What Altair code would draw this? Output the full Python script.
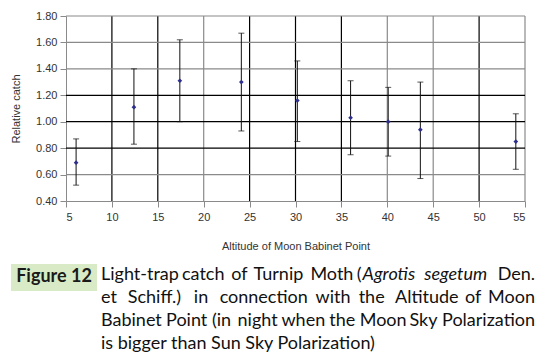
import altair as alt
import pandas as pd

# Data
altitude = [6.1, 12.4, 17.4, 24.1, 30.2, 36.0, 40.1, 43.6, 54.0]
catch = [0.69, 1.11, 1.31, 1.30, 1.16, 1.03, 1.00, 0.94, 0.85]
err_low = [0.52, 0.83, 1.00, 0.93, 0.85, 0.75, 0.74, 0.57, 0.64]
err_high = [0.87, 1.40, 1.62, 1.67, 1.46, 1.31, 1.26, 1.30, 1.06]

x_ticks = [5, 10, 15, 20, 25, 30, 35, 40, 45, 50, 55]
y_ticks = [0.4, 0.6, 0.8, 1.0, 1.2, 1.4, 1.6, 1.8]
x_grid_dark = [10, 15, 25, 30, 35, 50]
x_grid_light = [20, 40, 45, 55]
y_grid_dark = [0.8, 1.0, 1.2]
y_grid_light = [0.6, 1.4, 1.6, 1.8]

figure_label = "Figure 12"
# caption: lines -> words -> (piece, style); first three lines are justified
caption = [
    [[("Light-trap", "normal")], [("catch", "normal")], [("of", "normal")], [("Turnip", "normal")],
     [("Moth", "normal")], [("(", "normal"), ("Agrotis", "italic")], [("segetum", "italic")],
     [("Den.", "normal")]],
    [[("et", "normal")], [("Schiff.)", "normal")], [("in", "normal")], [("connection", "normal")],
     [("with", "normal")], [("the", "normal")], [("Altitude", "normal")], [("of", "normal")],
     [("Moon", "normal")]],
    [[("Babinet", "normal")], [("Point", "normal")], [("(in", "normal")], [("night", "normal")],
     [("when", "normal")], [("the", "normal")], [("Moon", "normal")], [("Sky", "normal")],
     [("Polarization", "normal")]],
    [[("is bigger than Sun Sky Polarization)", "normal")]],
]

# ---- layout helpers (approximate glyph advance widths, per 1000 em) ----
_W = dict(zip("abcdefghijklmnopqrstuvwxyz",
              [556, 556, 500, 556, 556, 278, 556, 556, 222, 222, 500, 222, 833,
               556, 556, 556, 556, 333, 500, 278, 556, 500, 722, 500, 500, 500]))
_W.update({"A": 667, "B": 667, "D": 722, "L": 556, "M": 833, "P": 667, "S": 667, "T": 611,
           " ": 278, "(": 333, ")": 333, ".": 278, "-": 333})
FS = 18
FACTOR = 0.961


def text_w(s):
    return sum(_W.get(c, 556) for c in s) / 1000 * FS * FACTOR


LEFT, RIGHT = 101, 535
line_y = [275, 298, 321, 344]
W, H = 459, 185
X0, Y0 = 66, 16  # page position of plot origin

pieces = []  # (text, x, y, align, style)
for li, words in enumerate(caption):
    if li == 3:
        pieces.append((words[0][0][0], LEFT, line_y[li], "left", "normal"))
        continue
    widths = [sum(text_w(p) for p, _ in w) for w in words]
    gap = (RIGHT - LEFT - sum(widths)) / (len(words) - 1)
    x = LEFT
    for wi, (w, ww) in enumerate(zip(words, widths)):
        if wi == len(words) - 1:
            pieces.append((w[0][0], RIGHT, line_y[li], "right", w[0][1]))
        else:
            px = x
            for p, st in w:
                pieces.append((p, px, line_y[li], "left", st))
                px += text_w(p)
        x += ww + gap

df = pd.DataFrame({"x": altitude, "y": catch, "lo": err_low, "hi": err_high})
xs = alt.Scale(domain=[5, 55], nice=False)
ys = alt.Scale(domain=[0.4, 1.8], nice=False)
x_axis = alt.Axis(values=x_ticks, format="d", title="Altitude of Moon Babinet Point",
                  titlePadding=18, labelPadding=4, labelOverlap=False)
y_axis = alt.Axis(values=y_ticks, format=".2f", title="Relative catch",
                  titlePadding=14, labelPadding=3, labelOverlap=False)

gx = pd.DataFrame({"v": x_grid_dark + x_grid_light,
                   "c": ["d"] * len(x_grid_dark) + ["l"] * len(x_grid_light)})
gy = pd.DataFrame({"v": y_grid_dark + y_grid_light,
                   "c": ["d"] * len(y_grid_dark) + ["l"] * len(y_grid_light)})
gcol = alt.Color("c:N", scale=alt.Scale(domain=["d", "l"], range=["#000000", "#8a8a8a"]), legend=None)

base = alt.Chart(df)
axes = base.mark_point(opacity=0).encode(
    x=alt.X("x:Q", scale=xs, axis=x_axis),
    y=alt.Y("y:Q", scale=ys, axis=y_axis),
)
vgrid = alt.Chart(gx).mark_rule(strokeWidth=1.2).encode(
    x=alt.X("v:Q", scale=xs, axis=x_axis), color=gcol)
hgrid = alt.Chart(gy).mark_rule(strokeWidth=1.2).encode(
    y=alt.Y("v:Q", scale=ys, axis=y_axis), color=gcol)

bars = base.mark_rule(color="#111111", strokeWidth=1).encode(
    x=alt.X("x:Q", axis=x_axis), y=alt.Y("lo:Q", axis=y_axis), y2="hi:Q")
cap_lo = base.mark_tick(color="#111111", thickness=1, size=6, orient="horizontal").encode(
    x=alt.X("x:Q", axis=x_axis), y=alt.Y("lo:Q", axis=y_axis))
cap_hi = base.mark_tick(color="#111111", thickness=1, size=6, orient="horizontal").encode(
    x=alt.X("x:Q", axis=x_axis), y=alt.Y("hi:Q", axis=y_axis))
pts = base.mark_point(shape="diamond", filled=True, color="#2e2f8c", size=22, opacity=1).encode(
    x=alt.X("x:Q", axis=x_axis), y=alt.Y("y:Q", axis=y_axis))

# Caption (drawn below the plot area)
box = alt.Chart(pd.DataFrame({"a": [0]})).mark_rect(color="#d9ebc6").encode(
    x=alt.value(11 - X0), x2=alt.value(97 - X0), y=alt.value(264 - Y0), y2=alt.value(291 - Y0))
fig_label = alt.Chart(pd.DataFrame({"t": [figure_label]})).mark_text(
    font="Lato", fontSize=18, fontWeight="bold", color="#1a1a1a", align="center", baseline="middle"
).encode(text="t:N", x=alt.value(54 - X0), y=alt.value(277 - Y0))

cap_layers = []
for text, px, py, al, st in pieces:
    cap_layers.append(
        alt.Chart(pd.DataFrame({"t": [text]})).mark_text(
            font="Lato", fontSize=FS, color="#111111", align=al, baseline="middle", fontStyle=st
        ).encode(text="t:N", x=alt.value(px - X0), y=alt.value(py - Y0))
    )

chart = alt.layer(axes, vgrid, hgrid, bars, cap_lo, cap_hi, pts, box, fig_label, *cap_layers).properties(
    width=W, height=H,
    autosize=alt.AutoSizeParams(type="none"),
    padding={"left": 58, "top": 8, "right": 12, "bottom": 160},
).configure_view(stroke=None).configure_axis(
    grid=False,
    labelOverlap=False,
    domainColor="#8a8a8a",
    tickColor="#8a8a8a",
    tickSize=6,
    labelFont="Liberation Sans",
    labelFontSize=11,
    labelColor="#333333",
    titleFont="Liberation Sans",
    titleFontSize=11,
    titleFontWeight="normal",
    titleColor="#333333",
)

chart.save("out.html", embed_options={"renderer": "svg", "actions": False})
